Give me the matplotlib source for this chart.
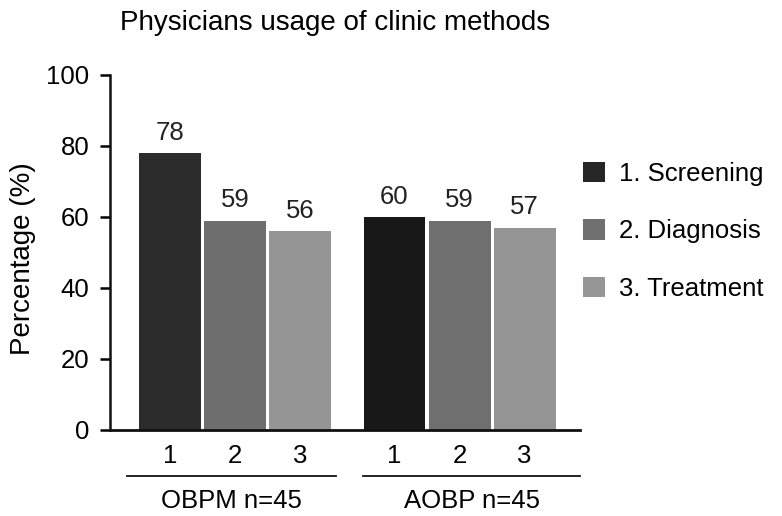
import matplotlib
matplotlib.use("Agg")
import matplotlib.pyplot as plt
from matplotlib.patches import Patch
import matplotlib.transforms as mtransforms

plt.rcParams['font.family'] = ['Liberation Sans', 'DejaVu Sans']

groups = ["OBPM n=45", "AOBP n=45"]
categories = ["1", "2", "3"]
legend_labels = ["1. Screening", "2. Diagnosis", "3. Treatment"]
obpm_values = [78, 59, 56]
aobp_values = [60, 59, 57]
obpm_colors = ["#2c2c2c", "#6e6e6e", "#959595"]
aobp_colors = ["#181818", "#6f6f6f", "#949494"]
legend_colors = ["#262626", "#707070", "#969696"]

FS = 18.5

fig = plt.figure(figsize=(7.82, 5.16), dpi=100)
ax = fig.add_axes([0.1407, 0.1667, 0.601, 0.688])

gap = 1.45
pos_obpm = [0, 1, 2]
pos_aobp = [2 + gap + i for i in range(3)]
width = 0.95

for pos, vals, cols in [(pos_obpm, obpm_values, obpm_colors), (pos_aobp, aobp_values, aobp_colors)]:
    ax.bar(pos, vals, width=width, color=cols, edgecolor='none')
    for p, v in zip(pos, vals):
        ax.text(p, v + 2.3, str(v), ha='center', va='bottom', fontsize=FS, color='#222222')

ax.set_ylim(0, 100)
ax.set_xlim(-0.92, pos_aobp[-1] + 0.85)
ax.set_yticks(range(0, 101, 20))
ax.tick_params(axis='y', labelsize=FS, length=7, width=1.8, direction='out', pad=8)
ax.set_xticks(pos_obpm + pos_aobp)
ax.set_xticklabels(categories * 2, fontsize=FS)
ax.tick_params(axis='x', length=0, pad=10)
ax.set_xticks([pos_obpm[1], pos_aobp[1]], minor=True)
ax.tick_params(axis='x', which='minor', length=5, width=1.6)

for s in ['top', 'right']:
    ax.spines[s].set_visible(False)
ax.spines['left'].set_linewidth(1.8)
ax.spines['bottom'].set_linewidth(2.0)
ax.spines['left'].set_color('#111111')
ax.spines['bottom'].set_color('#111111')

fig.text(23 / 782, 1 - 259 / 516, "Percentage (%)", rotation=90, ha='center', va='center', fontsize=20)
fig.text(0.428, 0.955, "Physicians usage of clinic methods", ha='center', va='center', fontsize=20)

trans = mtransforms.blended_transform_factory(ax.transData, ax.transAxes)
group_spans = [(pos_obpm[0] - 0.66, pos_obpm[-1] + 0.55), (pos_aobp[0] - 0.48, pos_aobp[-1] + 0.85)]
for (x0, x1), name in zip(group_spans, groups):
    ax.plot([x0, x1], [-0.13, -0.13], transform=trans, color='#111111', lw=1.3, clip_on=False)
    ax.text((x0 + x1) / 2, -0.2, name, transform=trans, ha='center', va='center', fontsize=FS)

handles = [Patch(facecolor=c, edgecolor='none') for c in legend_colors]
ax.legend(handles, legend_labels, loc='upper left', bbox_to_anchor=(1.006, 0.756), frameon=False,
          fontsize=FS, handlelength=0.85, handleheight=0.85, labelspacing=1.3, handletextpad=0.55,
          borderaxespad=0, borderpad=0)

fig.savefig("out.png", dpi=100)
